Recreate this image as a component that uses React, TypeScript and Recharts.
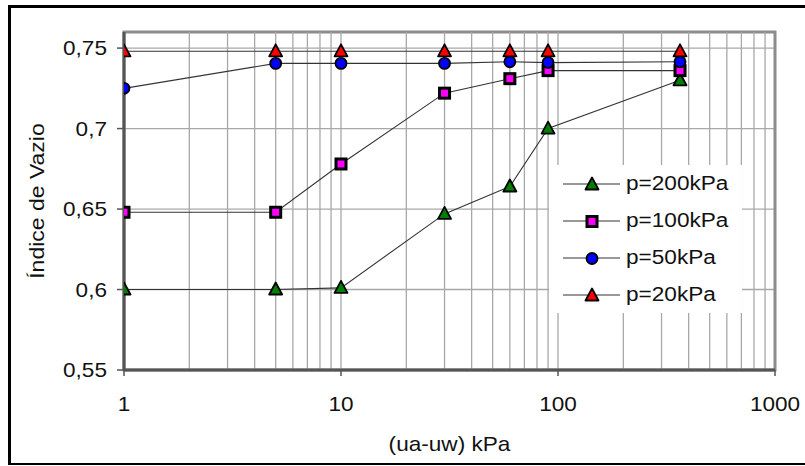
import {
  LineChart,
  Line,
  XAxis,
  YAxis,
  CartesianGrid,
  ReferenceLine,
  ReferenceArea,
  Legend,
  Label,
} from "recharts";

// suction (ua-uw) in kPa, shared by every series
const suctionKPa = [1, 5, 10, 30, 60, 90, 365];

// void ratio per confining pressure
const voidP200 = [0.6, 0.6, 0.601, 0.647, 0.664, 0.7, 0.73];
const voidP100 = [0.648, 0.648, 0.678, 0.722, 0.731, 0.736, 0.736];
const voidP50 = [0.725, 0.7405, 0.7405, 0.7405, 0.7415, 0.741, 0.7415];
const voidP20 = [0.748, 0.748, 0.748, 0.748, 0.748, 0.748, 0.748];

const xTicks = [1, 10, 100, 1000];
const yTicks = [0.55, 0.6, 0.65, 0.7, 0.75];
const minorGridX = [
  2, 3, 4, 5, 6, 7, 8, 9, 10,
  20, 30, 40, 50, 60, 70, 80, 90, 100,
  200, 300, 400, 500, 600, 700, 800, 900,
];

const FONT = "'Liberation Sans', Arial, sans-serif";
const GRID = "#a8a8a8";
const AXIS = "#555";
const STRETCH = 1.13;

type Shape = "triangle" | "square" | "circle";

const series: { key: string; name: string; values: number[]; shape: Shape; fill: string }[] = [
  { key: "p200", name: "p=200kPa", values: voidP200, shape: "triangle", fill: "#008000" },
  { key: "p100", name: "p=100kPa", values: voidP100, shape: "square", fill: "#ff00ff" },
  { key: "p50", name: "p=50kPa", values: voidP50, shape: "circle", fill: "#0000ff" },
  { key: "p20", name: "p=20kPa", values: voidP20, shape: "triangle", fill: "#ff0000" },
];

const data = suctionKPa.map((x, i) => {
  const row: Record<string, number> = { x };
  series.forEach((s) => (row[s.key] = s.values[i]));
  return row;
});

function Marker({ shape, fill, cx, cy }: { shape: Shape; fill: string; cx: number; cy: number }) {
  if (shape === "triangle")
    return (
      <polygon
        points={`${cx},${cy - 7} ${cx + 6.5},${cy + 5} ${cx - 6.5},${cy + 5}`}
        fill={fill}
        stroke="#000"
        strokeWidth={1.8}
        strokeLinejoin="round"
      />
    );
  if (shape === "square")
    return <rect x={cx - 5} y={cy - 5} width={10} height={10} fill={fill} stroke="#000" strokeWidth={3} />;
  return <circle cx={cx} cy={cy} r={5.5} fill={fill} stroke="#000" strokeWidth={1.8} />;
}

// text in the source is a bit wider than Arial, so stretch it horizontally
function Stretch({ x, y, sx = STRETCH, size = 20, anchor, dy, rotate = 0, children }: any) {
  return (
    <text
      transform={`translate(${x},${y}) rotate(${rotate}) scale(${sx},1)`}
      textAnchor={anchor}
      dy={dy}
      fontSize={size}
      fontFamily={FONT}
      fill="#111"
    >
      {children}
    </text>
  );
}

const fmt = (v: number) => String(v).replace(".", ",");

const YTick = ({ x, y, payload }: any) => (
  <Stretch x={x} y={y} anchor="end" dy="0.36em">
    {fmt(payload.value)}
  </Stretch>
);

const XTick = ({ x, y, payload }: any) => (
  <Stretch x={x} y={y} anchor="middle" dy="0.71em">
    {payload.value}
  </Stretch>
);

function LegendBox() {
  return (
    <div style={{ width: 193, height: 148, background: "#fff", fontFamily: FONT }}>
      {series.map((s) => (
        <div key={s.key} style={{ height: 37, display: "flex", alignItems: "center", paddingLeft: 14 }}>
          <svg width={57} height={18} style={{ display: "block" }}>
            <line x1={0} x2={57} y1={9} y2={9} stroke="#333" strokeWidth={1.2} />
            <Marker shape={s.shape} fill={s.fill} cx={29} cy={9.5} />
          </svg>
          <span
            style={{
              marginLeft: 6,
              fontSize: 20,
              color: "#111",
              display: "inline-block",
              transform: `scaleX(${STRETCH})`,
              transformOrigin: "left center",
              whiteSpace: "nowrap",
            }}
          >
            {s.name}
          </span>
        </div>
      ))}
    </div>
  );
}

export default function App() {
  return (
    <div
      style={{
        position: "absolute",
        left: 8,
        top: 5,
        width: 797,
        height: 460,
        borderTop: "3px solid #000",
        borderLeft: "3px solid #000",
        borderBottom: "2px solid #000",
        boxSizing: "border-box",
        background: "#fff",
      }}
    >
      <div style={{ position: "absolute", left: -1, top: 0 }}>
        <LineChart
          width={795}
          height={448}
          data={data}
          margin={{ top: 24, right: 30, left: 0, bottom: 0 }}
        >
          <CartesianGrid vertical={false} stroke={GRID} strokeWidth={1.3} />
          {minorGridX.map((v) => (
            <ReferenceLine key={v} x={v} stroke={GRID} strokeWidth={1.3} />
          ))}
          <ReferenceArea x1={1} x2={1000} y1={0.55} y2={0.76} fill="none" stroke="#8c8c8c" strokeWidth={3} />
          <XAxis
            dataKey="x"
            type="number"
            scale="log"
            domain={[1, 1000]}
            ticks={xTicks}
            allowDataOverflow
            height={86}
            tickSize={6}
            tickMargin={21}
            axisLine={{ stroke: AXIS, strokeWidth: 3 }}
            tickLine={{ stroke: AXIS, strokeWidth: 1.5 }}
            tick={<XTick />}
          >
            <Label
              content={(props: any) => {
                const vb = props.viewBox || { x: 114, width: 651 };
                return (
                  <Stretch x={vb.x + vb.width / 2} y={436} anchor="middle" dy="0.35em">
                    (ua-uw) kPa
                  </Stretch>
                );
              }}
            />
          </XAxis>
          <YAxis
            type="number"
            domain={[0.55, 0.76]}
            ticks={yTicks}
            allowDataOverflow
            width={114}
            tickSize={7}
            tickMargin={10}
            axisLine={{ stroke: AXIS, strokeWidth: 3 }}
            tickLine={{ stroke: AXIS, strokeWidth: 1.5 }}
            tick={<YTick />}
          >
            <Label
              content={(props: any) => {
                const vb = props.viewBox || { y: 24, height: 338 };
                return (
                  <Stretch x={27} y={vb.y + vb.height / 2} sx={1.15} anchor="middle" dy="0.35em" rotate={-90}>
                    Índice de Vazio
                  </Stretch>
                );
              }}
            />
          </YAxis>
          {series.map((s) => (
            <Line
              key={s.key}
              dataKey={s.key}
              name={s.name}
              type="linear"
              stroke="#333"
              strokeWidth={1.1}
              isAnimationActive={false}
              activeDot={false}
              dot={(p: any) => <Marker key={`${s.key}-${p.index}`} shape={s.shape} fill={s.fill} cx={p.cx} cy={p.cy} />}
            />
          ))}
          <Legend
            layout="vertical"
            align="center"
            verticalAlign="middle"
            wrapperStyle={{ left: 539, top: 157, width: 193, height: 148 }}
            content={() => <LegendBox />}
          />
        </LineChart>
      </div>
    </div>
  );
}
